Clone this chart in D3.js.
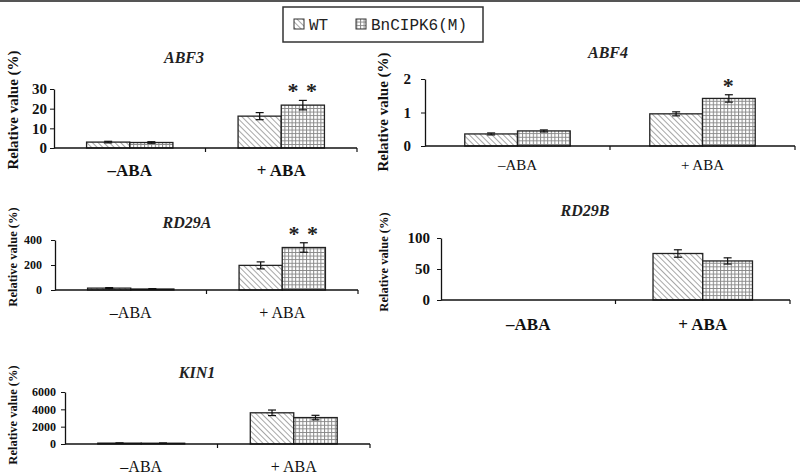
<!DOCTYPE html>
<html>
<head>
<meta charset="utf-8">
<style>
  body { margin: 0; background: #fff; }
  svg { display: block; }
</style>
</head>
<body>
<svg width="800" height="476"></svg>
<script src="https://d3js.org/d3.v7.min.js"></script>
<script>

    var categories = ["–ABA", "+ ABA"];
    var series = ["WT", "BnCIPK6(M)"];

    var genes = ["ABF3", "ABF4", "RD29A", "RD29B", "KIN1"];
    var yMax = [30, 2, 400, 100, 6000];
    var yTicks = [[0, 10, 20, 30], [0, 1, 2], [0, 200, 400], [0, 50, 100], [0, 2000, 4000, 6000]];

    // values [gene][category] = [WT, BnCIPK6(M)]
    var values = [
        [[3.0, 2.8], [16.2, 21.8]],
        [[0.36, 0.45], [0.96, 1.42]],
        [[15, 8], [197, 340]],
        [[0, 0], [75, 63]],
        [[100, 90], [3600, 3050]]
    ];
    var errors = [
        [[0.4, 0.4], [1.8, 2.4]],
        [[0.03, 0.03], [0.06, 0.11]],
        [[4, 3], [28, 38]],
        [[0, 0], [6, 5]],
        [[20, 20], [320, 260]]
    ];
    // significance marks on BnCIPK6(M) under + ABA
    var stars = ["* *", "*", "* *", "", ""];

    // layout per panel (plot box in pixels + label styling)
    var layout = [
        {x0: 54, x1: 357, y0: 148, yTop: 89, title: [184, 63], ylab: [18, 110], ylabSize: 15, tickSize: 15, tickPad: 3, xlabY: 176, xlabSize: 17, xlabBold: true},
        {x0: 425, x1: 795, y0: 146, yTop: 79, title: [608, 58], ylab: [388, 112], ylabSize: 15, tickSize: 15, tickPad: 10, xlabY: 170, xlabSize: 15, xlabBold: false},
        {x0: 55, x1: 358, y0: 290, yTop: 240, title: [187, 228], ylab: [17, 257], ylabSize: 12.5, tickSize: 12, tickPad: 9, xlabY: 318, xlabSize: 16, xlabBold: false},
        {x0: 441, x1: 790, y0: 300, yTop: 238, title: [585, 216], ylab: [388, 262], ylabSize: 12.5, tickSize: 15, tickPad: 7, xlabY: 330, xlabSize: 17, xlabBold: true},
        {x0: 65, x1: 370, y0: 444, yTop: 392, title: [197, 378], ylab: [17, 415], ylabSize: 12.5, tickSize: 12, tickPad: 5, xlabY: 472, xlabSize: 16, xlabBold: false}
    ];

    var svg = d3.select("svg");
    var serif = "Liberation Serif, Times New Roman, DejaVu Serif, serif";

    // patterns
    var defs = svg.append("defs");
    var hatch = defs.append("pattern")
        .attr("id", "hatch")
        .attr("patternUnits", "userSpaceOnUse")
        .attr("width", 4).attr("height", 4)
        .attr("patternTransform", "rotate(-45)");
    hatch.append("rect").attr("width", 4).attr("height", 4).attr("fill", "#fff");
    hatch.append("line").attr("x1", 0).attr("y1", 0).attr("x2", 0).attr("y2", 4)
        .attr("stroke", "#777").attr("stroke-width", 1.3);

    var grid = defs.append("pattern")
        .attr("id", "grid")
        .attr("patternUnits", "userSpaceOnUse")
        .attr("width", 3.6).attr("height", 3.6);
    grid.append("rect").attr("width", 3.6).attr("height", 3.6).attr("fill", "#fff");
    grid.append("path").attr("d", "M0,0.5H3.6M0.5,0V3.6")
        .attr("stroke", "#888").attr("stroke-width", 1);

    var fills = ["url(#hatch)", "url(#grid)"];

    // top border
    svg.append("rect").attr("x", 0).attr("y", 0).attr("width", 800).attr("height", 2).attr("fill", "#555");

    genes.forEach(function(gene, gi) {
        var L = layout[gi];
        var g = svg.append("g").attr("font-family", serif);

        var x = d3.scaleBand().domain(categories).range([L.x0, L.x1])
            .paddingInner(0.43).paddingOuter(0.215);
        var xs = d3.scaleBand().domain(series).range([0, x.bandwidth()]);
        var y = d3.scaleLinear().domain([0, yMax[gi]]).range([L.y0, L.yTop]);

        var data = [];
        categories.forEach(function(c, ci) {
            series.forEach(function(s, si) {
                data.push({cat: c, ser: s, si: si, v: values[gi][ci][si], e: errors[gi][ci][si]});
            });
        });

        // bars
        g.selectAll("rect.bar").data(data.filter(function(d) { return d.v > 0; }))
            .enter().append("rect")
            .attr("x", function(d) { return x(d.cat) + xs(d.ser); })
            .attr("y", function(d) { return y(d.v); })
            .attr("width", xs.bandwidth())
            .attr("height", function(d) { return L.y0 - y(d.v); })
            .attr("fill", function(d) { return fills[d.si]; })
            .attr("stroke", "#222")
            .attr("stroke-width", 1.3);

        // error bars
        var eb = g.selectAll("g.err").data(data.filter(function(d) { return d.e > 0; }))
            .enter().append("g")
            .attr("stroke", "#111").attr("stroke-width", 1.2);
        eb.append("line")
            .attr("x1", function(d) { return x(d.cat) + xs(d.ser) + xs.bandwidth() / 2; })
            .attr("x2", function(d) { return x(d.cat) + xs(d.ser) + xs.bandwidth() / 2; })
            .attr("y1", function(d) { return y(d.v - d.e); })
            .attr("y2", function(d) { return y(d.v + d.e); });
        [-1, 1].forEach(function(sgn) {
            eb.append("line")
                .attr("x1", function(d) { return x(d.cat) + xs(d.ser) + xs.bandwidth() / 2 - 4; })
                .attr("x2", function(d) { return x(d.cat) + xs(d.ser) + xs.bandwidth() / 2 + 4; })
                .attr("y1", function(d) { return y(d.v + sgn * d.e); })
                .attr("y2", function(d) { return y(d.v + sgn * d.e); });
        });

        // stars
        if (stars[gi]) {
            var v = values[gi][1][1], e = errors[gi][1][1];
            g.append("text")
                .attr("x", x(categories[1]) + xs(series[1]) + xs.bandwidth() / 2)
                .attr("y", y(v + e) - 2)
                .attr("text-anchor", "middle")
                .attr("font-size", 22)
                .attr("font-weight", "bold")
                .attr("letter-spacing", 1)
                .attr("fill", "#222")
                .text(stars[gi]);
        }

        // y axis
        var ya = g.append("g")
            .attr("transform", "translate(" + L.x0 + ",0)")
            .call(d3.axisLeft(y).tickValues(yTicks[gi]).tickFormat(d3.format("d"))
                .tickSize(4).tickSizeOuter(0).tickPadding(L.tickPad));
        ya.attr("font-family", serif);
        ya.select(".domain").attr("stroke", "#111").attr("stroke-width", 1.3);
        ya.selectAll(".tick line").attr("stroke", "#111");
        ya.selectAll("text")
            .attr("font-size", L.tickSize)
            .attr("font-weight", "bold")
            .attr("fill", "#111");

        // x axis: baseline with boundary ticks
        g.append("line")
            .attr("x1", L.x0).attr("x2", L.x1)
            .attr("y1", L.y0).attr("y2", L.y0)
            .attr("stroke", "#111").attr("stroke-width", 1.3);
        [1, 2].forEach(function(k) {
            var tx = L.x0 + x.step() * k;
            g.append("line")
                .attr("x1", tx).attr("x2", tx)
                .attr("y1", L.y0).attr("y2", L.y0 + 4)
                .attr("stroke", "#111").attr("stroke-width", 1.2);
        });

        g.selectAll("text.xlab").data(categories).enter().append("text")
            .attr("x", function(c) { return x(c) + x.bandwidth() / 2; })
            .attr("y", L.xlabY)
            .attr("text-anchor", "middle")
            .attr("font-size", L.xlabSize)
            .attr("font-weight", L.xlabBold ? "bold" : "normal")
            .attr("fill", "#111")
            .text(function(c) { return c; });

        // title
        g.append("text")
            .attr("x", L.title[0]).attr("y", L.title[1])
            .attr("text-anchor", "middle")
            .attr("font-size", 16)
            .attr("font-style", "italic")
            .attr("font-weight", "bold")
            .attr("fill", "#222")
            .text(gene);

        // y label
        g.append("text")
            .attr("transform", "translate(" + L.ylab[0] + "," + L.ylab[1] + ") rotate(-90)")
            .attr("text-anchor", "middle")
            .attr("font-size", L.ylabSize)
            .attr("font-weight", "bold")
            .attr("fill", "#111")
            .text("Relative value (%)");
    });

    // legend
    var lg = svg.append("g");
    lg.append("rect")
        .attr("x", 283).attr("y", 7).attr("width", 200).attr("height", 35)
        .attr("fill", "#fff").attr("stroke", "#333").attr("stroke-width", 1.5);
    var legX = [294, 356];
    series.forEach(function(s, si) {
        lg.append("rect")
            .attr("x", legX[si]).attr("y", 19).attr("width", 10).attr("height", 10)
            .attr("fill", fills[si]).attr("stroke", "#333").attr("stroke-width", 1);
        lg.append("text")
            .attr("x", legX[si] + 15).attr("y", 30)
            .attr("font-family", "Liberation Mono, DejaVu Sans Mono, monospace")
            .attr("font-size", 16)
            .attr("fill", "#222")
            .text(s);
    });

</script>
</body>
</html>
